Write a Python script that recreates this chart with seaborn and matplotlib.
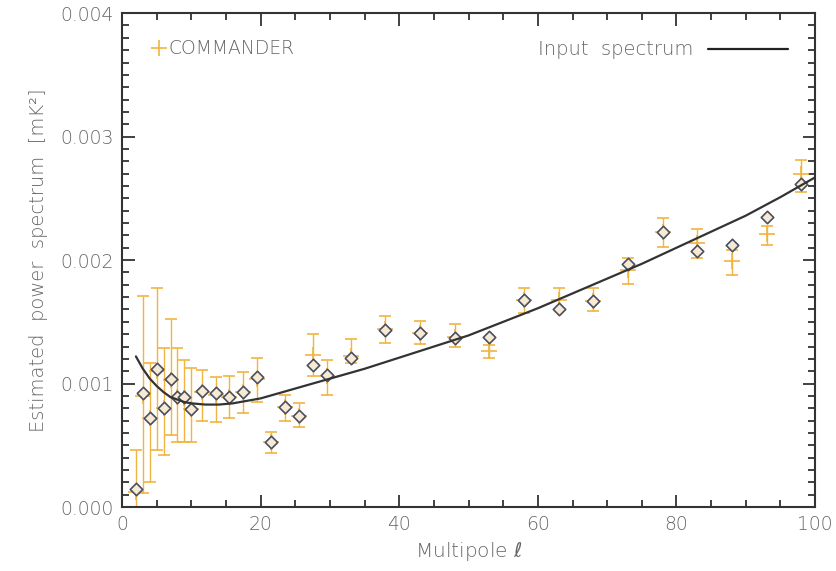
import numpy as np
import pandas as pd
import matplotlib
matplotlib.use("Agg")
import matplotlib.pyplot as plt
import seaborn as sns
from matplotlib.ticker import MultipleLocator, FormatStrFormatter
from matplotlib.lines import Line2D

# ---- data ----
ell = [2, 3, 4, 5, 6, 7, 8, 9, 10, 11.5, 13.5, 15.5, 17.5, 19.5, 21.5, 23.5, 25.5,
       27.5, 29.5, 33, 38, 43, 48, 53, 58, 63, 68, 73, 78, 83, 88, 93, 98]
realization = [0.00015, 0.00092, 0.00072, 0.00112, 0.00080, 0.00104, 0.00089, 0.00089,
               0.00079, 0.00094, 0.00092, 0.00089, 0.00093, 0.00105, 0.00053, 0.00081,
               0.00074, 0.00115, 0.00107, 0.00121, 0.00143, 0.00141, 0.00137, 0.00138,
               0.00168, 0.00160, 0.00167, 0.00197, 0.00223, 0.00207, 0.00212, 0.00235,
               0.00262]
commander = [0.00012, 0.00090, 0.00072, 0.00110, 0.00080, 0.00103, 0.00089, 0.00088,
             0.00079, 0.00093, 0.00091, 0.00089, 0.00093, 0.00104, 0.00053, 0.00081,
             0.00074, 0.00123, 0.00106, 0.00122, 0.00144, 0.00141, 0.00138, 0.00126,
             0.00168, 0.00168, 0.00167, 0.00192, 0.00223, 0.00214, 0.00199, 0.00221,
             0.00270]
err_low = [-0.00020, 0.00011, 0.00020, 0.00046, 0.00042, 0.00058, 0.00053, 0.00053,
           0.00053, 0.00070, 0.00069, 0.00072, 0.00076, 0.00085, 0.00044, 0.00070,
           0.00065, 0.00106, 0.00091, 0.00117, 0.00133, 0.00132, 0.00130, 0.00121,
           0.00157, 0.00160, 0.00159, 0.00181, 0.00211, 0.00202, 0.00188, 0.00212,
           0.00255]
err_high = [0.00046, 0.00171, 0.00117, 0.00177, 0.00129, 0.00152, 0.00129, 0.00119,
            0.00113, 0.00111, 0.00105, 0.00106, 0.00109, 0.00121, 0.00061, 0.00091,
            0.00084, 0.00140, 0.00119, 0.00136, 0.00155, 0.00151, 0.00148, 0.00131,
            0.00177, 0.00177, 0.00177, 0.00202, 0.00234, 0.00225, 0.00208, 0.00228,
            0.00281]

input_ell = [2, 3, 4, 5, 6, 7, 8, 9, 10, 12, 14, 16, 18, 20, 25, 30, 35, 40, 45, 50,
             55, 60, 65, 70, 75, 80, 85, 90, 95, 100]
input_cl = [0.00122, 0.00112, 0.00104, 0.00098, 0.00093, 0.00089, 0.00087, 0.00085,
            0.00084, 0.00083, 0.00083, 0.00084, 0.00086, 0.00088, 0.00096, 0.00104,
            0.00112, 0.00121, 0.00130, 0.00139, 0.00150, 0.00161, 0.00173, 0.00185,
            0.00197, 0.00210, 0.00223, 0.00236, 0.00251, 0.00267]

x_ticks = [0, 20, 40, 60, 80, 100]
y_ticks = [0.000, 0.001, 0.002, 0.003, 0.004]

# ---- styling ----
sns.set_style("ticks")
plt.rcParams['font.family'] = ['DejaVu Sans', 'Noto Sans']
plt.rcParams['mathtext.fontset'] = 'dejavusans'
TXT = "#666666"
ORANGE = "#F2B440"
FRAME = "#333333"

df_pts = pd.DataFrame({"ell": ell, "real": realization, "cmd": commander,
                       "lo": err_low, "hi": err_high})
df_in = pd.DataFrame({"ell": input_ell, "cl": input_cl})

fig = plt.figure(figsize=(8.36, 5.71), dpi=100)
ax = fig.add_axes([0.146, 0.112, 0.829, 0.865])

yerr = np.vstack([df_pts["cmd"] - df_pts["lo"], df_pts["hi"] - df_pts["cmd"]])
ax.errorbar(df_pts["ell"], df_pts["cmd"], yerr=yerr, fmt="+", color=ORANGE,
            ecolor=ORANGE, elinewidth=1.0, capsize=4, capthick=1.0,
            markersize=11, markeredgewidth=1.2, zorder=2)

sns.scatterplot(data=df_pts, x="ell", y="real", marker="D", s=40,
                facecolor="#F6EAD2", edgecolor="#4A4E5E", linewidth=1.2,
                ax=ax, zorder=3, legend=False)

sns.lineplot(data=df_in, x="ell", y="cl", color="#333333", linewidth=1.6,
             ax=ax, zorder=4, legend=False)

ax.set_xlim(0, 100)
ax.set_ylim(0, 0.004)
ax.set_xticks(x_ticks)
ax.set_yticks(y_ticks)
ax.yaxis.set_major_formatter(FormatStrFormatter("%.3f"))
ax.xaxis.set_minor_locator(MultipleLocator(5))
ax.yaxis.set_minor_locator(MultipleLocator(0.0001))
ax.tick_params(which="both", direction="in", top=True, right=True,
               color=FRAME, width=1.3, labelcolor=TXT, labelsize=13.5, pad=6)
ax.tick_params(which="major", length=9)
ax.tick_params(which="minor", length=5)
for lab in ax.get_xticklabels() + ax.get_yticklabels():
    lab.set_fontweight("light")
for sp in ax.spines.values():
    sp.set_color(FRAME)
    sp.set_linewidth(1.5)

ax.set_xlabel(r"Multipole $\ell$", color=TXT, fontsize=14.5, labelpad=4,
              fontweight="light")
ax.set_ylabel("Estimated  power  spectrum  [mK\u00b2]", color=TXT, fontsize=14,
              labelpad=9, fontweight="light")

h1 = Line2D([], [], marker="+", linestyle="none", color=ORANGE,
            markersize=12, markeredgewidth=1.2)
leg1 = ax.legend([h1], ["COMMANDER"], loc="upper left", frameon=False,
                 prop={"size": 13.5, "weight": "light"}, handletextpad=0.0,
                 borderaxespad=1.0, labelcolor=TXT, handlelength=1.1)
ax.add_artist(leg1)
h2 = Line2D([], [], color="#222222", linewidth=1.6)
ax.legend([h2], ["Input  spectrum"], loc="upper right", frameon=False,
          prop={"size": 14, "weight": "light"}, markerfirst=False,
          handlelength=4.1, handletextpad=0.75, borderaxespad=1.0,
          labelcolor=TXT)

fig.savefig("out.png", dpi=100)
